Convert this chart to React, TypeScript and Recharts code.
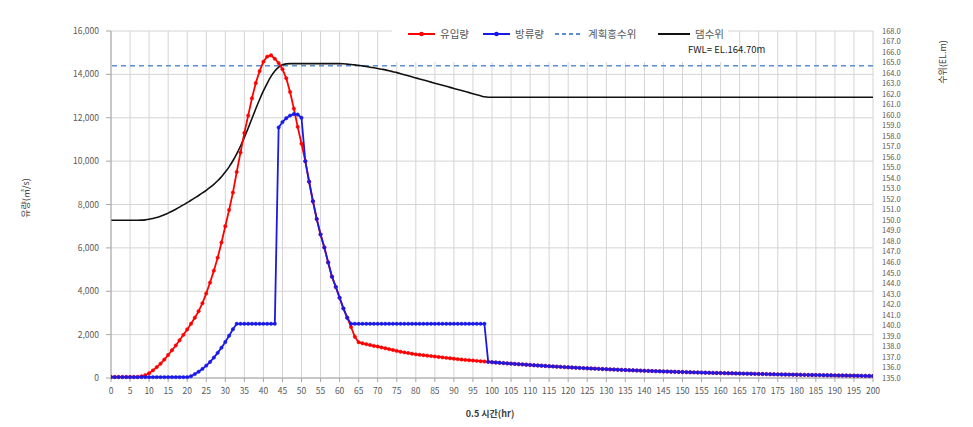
import React from "react";
import { ComposedChart, Line, XAxis, YAxis, CartesianGrid, ReferenceLine } from "recharts";

// time axis (0.5 hr steps)
const times = [
  0,1,2,3,4,5,6,7,8,9,10,11,12,13,14,15,16,17,18,19,20,21,22,23,24,25,26,27,28,29,30,31,32,33,34,35,36,37,38,39,40,
  41,42,43,44,45,46,47,48,49,50,51,52,53,54,55,56,57,58,59,60,61,62,63,64,65,66,67,68,69,70,71,72,73,74,75,76,77,78,79,80,
  81,82,83,84,85,86,87,88,89,90,91,92,93,94,95,96,97,98,99,100,101,102,103,104,105,106,107,108,109,110,111,112,113,114,115,116,117,118,119,120,
  121,122,123,124,125,126,127,128,129,130,131,132,133,134,135,136,137,138,139,140,141,142,143,144,145,146,147,148,149,150,151,152,153,154,155,156,157,158,159,160,
  161,162,163,164,165,166,167,168,169,170,171,172,173,174,175,176,177,178,179,180,181,182,183,184,185,186,187,188,189,190,191,192,193,194,195,196,197,198,199,200,
];

// 유입량 (m3/s)
const inflow = [
  50,50,50,50,50,50,50,50,80,130,220,350,500,660,850,1060,1280,1500,1740,1990,2240,2500,2780,3080,3450,3900,4400,4950,5550,6250,7000,
  7750,8550,9500,10400,11300,12100,12900,13600,14150,14580,14820,14880,14720,14520,14240,13820,13190,12420,11580,10800,
  10000,9050,8150,7330,6620,6020,5330,4670,4200,3700,3210,2780,2350,1900,1650,1600,1560,1520,1480,1450,
  1410,1370,1330,1290,1250,1210,1180,1150,1120,1090,1070,1050,1030,1010,990,970,950,930,910,890,
  870,850,835,820,805,790,775,760,745,730,715,700,688,675,662,650,638,626,614,602,
  590,578,567,556,545,534,523,513,503,493,483,474,465,456,447,438,430,422,414,406,
  398,390,382,375,368,361,354,347,340,333,327,321,315,309,303,297,291,285,280,275,
  270,265,260,255,250,245,240,236,232,228,224,220,216,212,208,204,200,196,192,188,
  184,180,176,172,168,164,160,157,154,151,148,145,142,139,136,133,130,127,124,121,
  118,115,112,109,106,103,100,97,94,91,
];

// 방류량 (m3/s)
const outflow = [
  40,40,40,40,40,40,40,40,40,40,40,40,40,40,40,40,40,40,40,40,40,
  80,180,290,420,570,740,940,1160,1400,1660,1950,2250,2500,2500,2500,2500,2500,2500,2500,2500,2500,2500,
  2500,11550,11800,11980,12100,12170,12150,12000,10000,9050,8150,7330,6620,6020,5330,4670,4200,3700,3210,2780,
  2500,2500,2500,2500,2500,2500,2500,2500,2500,2500,2500,2500,2500,2500,2500,2500,2500,2500,2500,2500,
  2500,2500,2500,2500,2500,2500,2500,2500,2500,2500,2500,2500,2500,2500,2500,2500,745,730,
  715,700,688,675,662,650,638,626,614,602,
  590,578,567,556,545,534,523,513,503,493,483,474,465,456,447,438,430,422,414,406,
  398,390,382,375,368,361,354,347,340,333,327,321,315,309,303,297,291,285,280,275,
  270,265,260,255,250,245,240,236,232,228,224,220,216,212,208,204,200,196,192,188,
  184,180,176,172,168,164,160,157,154,151,148,145,142,139,136,133,130,127,124,121,
  118,115,112,109,106,103,100,97,94,91,
];

// 댐수위 (EL.m)
const waterLevel = [
  150.0,150.0,150.0,150.0,150.0,150.0,150.0,150.0,150.01,150.04,150.09,150.16,150.26,150.38,150.52,150.68,150.86,151.05,151.25,151.46,151.68,
  151.9,152.13,152.36,152.6,152.85,153.12,153.42,153.76,154.14,154.58,155.08,155.66,156.32,157.06,157.88,158.76,159.68,160.6,161.48,162.3,
  163.03,163.68,164.2,164.57,164.78,164.87,164.9,164.9,164.9,164.9,164.9,164.9,164.9,164.9,164.9,164.9,164.9,164.9,164.9,164.9,
  164.88,164.85,164.82,164.78,164.73,164.68,164.62,164.56,164.5,164.44,164.37,164.3,164.22,164.13,164.04,163.94,163.84,163.74,163.64,163.54,
  163.44,163.34,163.24,163.14,163.04,162.94,162.84,162.74,162.64,162.54,162.44,162.34,162.24,162.14,162.04,161.94,161.84,161.74,161.7,161.7,
  161.7,161.7,161.7,161.7,161.7,161.7,161.7,161.7,161.7,161.7,161.7,161.7,161.7,161.7,161.7,161.7,161.7,161.7,161.7,161.7,
  161.7,161.7,161.7,161.7,161.7,161.7,161.7,161.7,161.7,161.7,161.7,161.7,161.7,161.7,161.7,161.7,161.7,161.7,161.7,161.7,
  161.7,161.7,161.7,161.7,161.7,161.7,161.7,161.7,161.7,161.7,161.7,161.7,161.7,161.7,161.7,161.7,161.7,161.7,161.7,161.7,
  161.7,161.7,161.7,161.7,161.7,161.7,161.7,161.7,161.7,161.7,161.7,161.7,161.7,161.7,161.7,161.7,161.7,161.7,161.7,161.7,
  161.7,161.7,161.7,161.7,161.7,161.7,161.7,161.7,161.7,161.7,161.7,161.7,161.7,161.7,161.7,161.7,161.7,161.7,161.7,161.7,
];

const fwl = 164.7;

const xTicks = [0,5,10,15,20,25,30,35,40,45,50,55,60,65,70,75,80,85,90,95,100,105,110,115,120,125,130,135,140,145,150,155,160,165,170,175,180,185,190,195,200];
const leftTicks = [0,2000,4000,6000,8000,10000,12000,14000,16000];
const rightTicks = [135,136,137,138,139,140,141,142,143,144,145,146,147,148,149,150,151,152,153,154,155,156,157,158,159,160,161,162,163,164,165,166,167,168];

const seriesNames = { inflow: "유입량", outflow: "방류량", fwl: "계획홍수위", level: "댐수위" };
const fwlText = "FWL= EL.164.70m";

const data = times.map((t, i) => ({ t, inflow: inflow[i], outflow: outflow[i], level: waterLevel[i] }));

const FONT = "'Noto Sans CJK KR', 'Noto Sans', sans-serif";
const tickStyle = { fontSize: 8.5, fill: "#595959", fontFamily: FONT };

const RED = "#ff0000";
const BLUE = "#1a1ae6";
const DASH = "#5b8fd0";
const BLACK = "#111111";

function LegendItem({
  left,
  lineW,
  color,
  dashed,
  marker,
  label,
}: {
  left: number;
  lineW: number;
  color: string;
  dashed?: boolean;
  marker?: boolean;
  label: string;
}) {
  return (
    <div style={{ position: "absolute", left, top: 20, height: 12, display: "flex", alignItems: "center", whiteSpace: "nowrap" }}>
      <svg width={lineW} height={8} style={{ marginRight: 5 }}>
        <line x1={0} y1={4} x2={lineW} y2={4} stroke={color} strokeWidth={2} strokeDasharray={dashed ? "4 3" : undefined} />
        {marker && <circle cx={lineW / 2} cy={4} r={2.3} fill={color} />}
      </svg>
      <span style={{ lineHeight: "12px" }}>{label}</span>
    </div>
  );
}

export default function App() {
  return (
    <div style={{ position: "relative", width: 957, height: 411, fontFamily: FONT }}>
      <ComposedChart width={957} height={411} data={data} margin={{ top: 23, right: 32, bottom: 11, left: 43 }}>
        <CartesianGrid stroke="#d4d4d4" strokeWidth={1} yAxisId="left" />
        <XAxis
          dataKey="t"
          type="number"
          domain={[0, 200]}
          ticks={xTicks}
          interval={0}
          height={30}
          tick={tickStyle}
          tickSize={4}
          tickMargin={6}
          stroke="#a6a6a6"
          allowDataOverflow
        />
        <YAxis
          yAxisId="left"
          domain={[0, 16000]}
          ticks={leftTicks}
          width={60}
          interval={0}
          tick={tickStyle}
          tickSize={5}
          tickMargin={7}
          stroke="#a6a6a6"
          tickFormatter={(v: number) => v.toLocaleString("en-US")}
        />
        <YAxis
          yAxisId="right"
          orientation="right"
          domain={[135, 168]}
          ticks={rightTicks}
          width={60}
          interval={0}
          tick={{ ...tickStyle, fontSize: 7.5 }}
          tickLine={false}
          axisLine={false}
          tickSize={6}
          tickMargin={3}
          tickFormatter={(v: number) => v.toFixed(1)}
        />
        <ReferenceLine yAxisId="right" y={fwl} stroke={DASH} strokeWidth={1.5} strokeDasharray="5 4" />
        <Line
          yAxisId="right"
          dataKey="level"
          stroke={BLACK}
          strokeWidth={1.6}
          dot={false}
          type="monotone"
          isAnimationActive={false}
        />
        <Line
          yAxisId="left"
          dataKey="inflow"
          stroke={RED}
          strokeWidth={1.8}
          dot={{ r: 1.7, fill: RED, stroke: RED, strokeWidth: 0.5 }}
          type="linear"
          isAnimationActive={false}
        />
        <Line
          yAxisId="left"
          dataKey="outflow"
          stroke={BLUE}
          strokeWidth={1.8}
          dot={{ r: 1.7, fill: BLUE, stroke: BLUE, strokeWidth: 0.5 }}
          type="linear"
          isAnimationActive={false}
        />
      </ComposedChart>

      {/* legend */}
      <div style={{ position: "absolute", left: 384, top: 14, width: 336, height: 40, background: "#ffffff" }} />
      <div style={{ position: "absolute", left: 0, top: 0, fontSize: 10.5, color: "#595959" }}>
        <LegendItem left={400} lineW={27} color={RED} marker label={seriesNames.inflow} />
        <LegendItem left={475} lineW={27} color={BLUE} marker label={seriesNames.outflow} />
        <LegendItem left={547} lineW={28} color={DASH} dashed label={seriesNames.fwl} />
        <LegendItem left={650} lineW={32} color={BLACK} label={seriesNames.level} />
      </div>
      <div style={{ position: "absolute", left: 680, top: 36, fontSize: 9.5, lineHeight: "11px", color: "#222", whiteSpace: "nowrap" }}>
        {fwlText}
      </div>

      {/* axis titles */}
      <div
        style={{
          position: "absolute",
          left: 17,
          top: 190,
          transform: "translate(-50%, -50%) rotate(-90deg)",
          fontSize: 9,
          color: "#404040",
          whiteSpace: "nowrap",
        }}
      >
        유량(㎥/s)
      </div>
      <div
        style={{
          position: "absolute",
          left: 934,
          top: 54,
          transform: "translate(-50%, -50%) rotate(-90deg)",
          fontSize: 9,
          color: "#404040",
          whiteSpace: "nowrap",
        }}
      >
        수위(EL.m)
      </div>
      <div
        style={{
          position: "absolute",
          left: 482,
          top: 405,
          transform: "translate(-50%, -50%)",
          fontSize: 9,
          fontWeight: 700,
          color: "#404040",
          whiteSpace: "nowrap",
        }}
      >
        0.5 시간(hr)
      </div>
    </div>
  );
}
